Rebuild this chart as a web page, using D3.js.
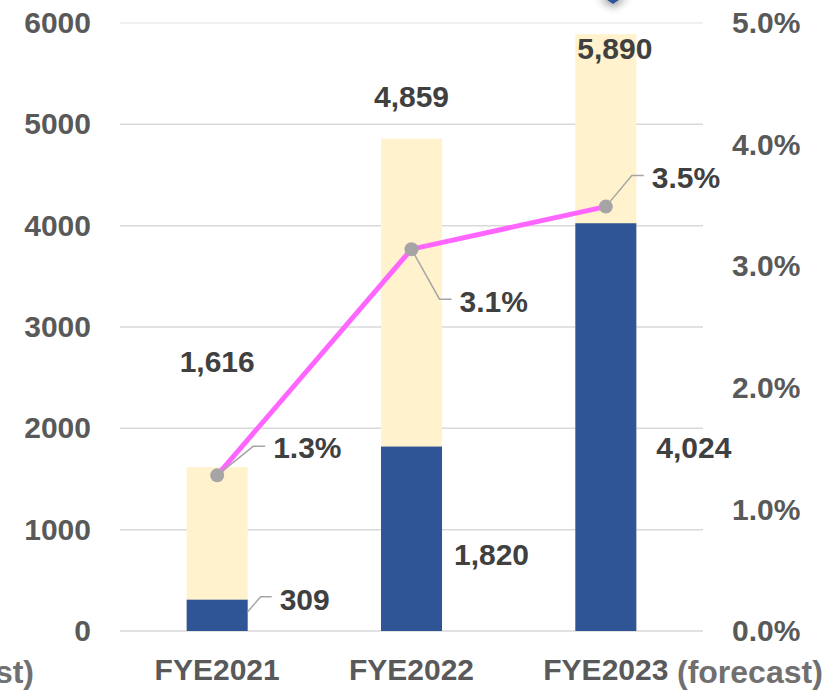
<!DOCTYPE html>
<html>
<head>
<meta charset="utf-8">
<script src="https://cdnjs.cloudflare.com/ajax/libs/d3/7.8.5/d3.min.js"></script>
<style>
 body { margin: 0; background: #fff; }
 svg { display: block; font-family: "Liberation Sans", Arial, sans-serif; font-weight: bold; }
</style>
</head>
<body>
<div id="chart"></div>
<script>
// data
var categories = ["FYE2021", "FYE2022", "FYE2023"];
var bottomValues = [309, 1820, 4024];
var totalValues = [1616, 4859, 5890];
var ratioValues = [0.0128, 0.0314, 0.0349];
var leftTicks = [0, 1000, 2000, 3000, 4000, 5000, 6000];
var rightTicks = [0, 0.01, 0.02, 0.03, 0.04, 0.05];

// label nudges (layout only)
var totalOffsets = [[0, -95], [0, -32], [9, 25]];
var bottomOffsets = [[0, 0], [80, 118], [88, 235]];
var ratioOffsets = [[56, -17], [48, 63], [46, -19]];

var width = 837, height = 691;
var plot = {left: 120, right: 703, top: 23, bottom: 631};

var svg = d3.select("#chart").append("svg")
  .attr("width", width)
  .attr("height", height);

var defs = svg.append("defs");
var f = defs.append("filter").attr("id", "shadow")
  .attr("x", "-50%").attr("y", "-50%").attr("width", "200%").attr("height", "300%");
f.append("feDropShadow").attr("dx", 0).attr("dy", 3).attr("stdDeviation", 4)
  .attr("flood-color", "#000").attr("flood-opacity", 0.45);

// set the ranges
var x = d3.scaleBand().domain(categories).range([plot.left, plot.right])
  .paddingInner(0.686).paddingOuter(0.343);
var yL = d3.scaleLinear().domain([0, 6000]).range([plot.bottom, plot.top]);
var yR = d3.scaleLinear().domain([0, 0.05]).range([plot.bottom, plot.top]);

// decorative shape cut off at the top
svg.append("path")
  .attr("d", "M598,-6 L628,-6 L613,4 Z")
  .attr("fill", "#2F5597")
  .attr("filter", "url(#shadow)");

// gridlines
svg.append("g").selectAll("line")
  .data(leftTicks)
  .enter().append("line")
  .attr("x1", plot.left).attr("x2", plot.right)
  .attr("y1", function(d) { return yL(d); })
  .attr("y2", function(d) { return yL(d); })
  .attr("stroke", function(d) { return d === 6000 ? "#EBEBEB" : "#D9D9D9"; })
  .attr("stroke-width", 1.5);

// left axis
var axL = svg.append("g")
  .attr("transform", "translate(91,0)")
  .call(d3.axisLeft(yL).tickValues(leftTicks).tickSize(0).tickPadding(0).tickFormat(d3.format("d")));
axL.select(".domain").remove();
axL.selectAll("text").attr("fill", "#595959").style("font-size", "30px").style("font-weight", "bold")
  .attr("font-family", null);

// right axis
var axR = svg.append("g")
  .attr("transform", "translate(732,0)")
  .call(d3.axisRight(yR).tickValues(rightTicks).tickSize(0).tickPadding(0).tickFormat(d3.format(".1%")));
axR.select(".domain").remove();
axR.selectAll("text").attr("fill", "#595959").style("font-size", "30px").style("font-weight", "bold")
  .attr("font-family", null);

// bottom axis
var axB = svg.append("g")
  .attr("transform", "translate(0," + plot.bottom + ")")
  .call(d3.axisBottom(x).tickSize(0).tickPadding(0));
axB.select(".domain").remove();
axB.selectAll("text").attr("fill", "#595959").style("font-size", "30px").style("font-weight", "bold")
  .attr("font-family", null).attr("dy", null).attr("y", 49);

svg.append("text")
  .attr("x", 677).attr("y", 683)
  .attr("fill", "#707070").style("font-size", "32px")
  .text("(forecast)");
svg.append("text")
  .attr("x", 34).attr("y", 683)
  .attr("text-anchor", "end")
  .attr("fill", "#707070").style("font-size", "32px")
  .text("(forecast)");

// bars
var bars = svg.append("g");
bars.selectAll(".total")
  .data(categories)
  .enter().append("rect")
  .attr("x", function(d) { return x(d); })
  .attr("width", x.bandwidth())
  .attr("y", function(d, i) { return yL(totalValues[i]); })
  .attr("height", function(d, i) { return yL(0) - yL(totalValues[i]); })
  .attr("fill", "#FFF2CC");
bars.selectAll(".bottom")
  .data(categories)
  .enter().append("rect")
  .attr("x", function(d) { return x(d); })
  .attr("width", x.bandwidth())
  .attr("y", function(d, i) { return yL(bottomValues[i]); })
  .attr("height", function(d, i) { return yL(0) - yL(bottomValues[i]); })
  .attr("fill", "#2F5597");

var cx = function(d) { return x(d) + x.bandwidth() / 2; };
var fmt = d3.format(",");

// line
var valueline = d3.line()
  .x(function(d, i) { return cx(categories[i]); })
  .y(function(d) { return yR(d); });

svg.append("path")
  .datum(ratioValues)
  .attr("d", valueline)
  .attr("fill", "none")
  .attr("stroke", "#FF66FF")
  .attr("stroke-width", 5);

// leader lines
var leader = svg.append("g").attr("fill", "none").attr("stroke", "#A6A6A6").attr("stroke-width", 1.5);
// 309 leader from bar edge
leader.append("path").attr("d", function() {
  var x0 = x(categories[0]) + x.bandwidth(), y0 = yL(bottomValues[0]);
  return "M" + x0 + "," + (y0 + 12) + " L" + (x0 + 13) + "," + (y0 - 3) + " H" + (x0 + 24);
});
ratioValues.forEach(function(v, i) {
  var px = cx(categories[i]), py = yR(v);
  var o = ratioOffsets[i];
  var ly = py + o[1] + (o[1] < 0 ? -12 : -13);
  var mid = px + o[0] - 20;
  leader.append("path").attr("d", "M" + px + "," + py + " L" + mid + "," + ly + " H" + (mid + 12));
});

// markers
svg.append("g").selectAll("circle")
  .data(ratioValues)
  .enter().append("circle")
  .attr("cx", function(d, i) { return cx(categories[i]); })
  .attr("cy", function(d) { return yR(d); })
  .attr("r", 7)
  .attr("fill", "#A5A5A5");

// labels
var labels = svg.append("g").attr("fill", "#404040").style("font-size", "30px");
totalValues.forEach(function(v, i) {
  labels.append("text")
    .attr("x", cx(categories[i]) + totalOffsets[i][0])
    .attr("y", yL(v) + totalOffsets[i][1])
    .attr("text-anchor", "middle")
    .text(fmt(v));
});
bottomValues.forEach(function(v, i) {
  var t = labels.append("text").text(fmt(v));
  if (i === 0) {
    t.attr("x", x(categories[0]) + x.bandwidth() + 32).attr("y", yL(v) + 10);
  } else {
    t.attr("x", cx(categories[i]) + bottomOffsets[i][0])
      .attr("y", yL(v) + bottomOffsets[i][1])
      .attr("text-anchor", "middle");
  }
});
ratioValues.forEach(function(v, i) {
  labels.append("text")
    .attr("x", cx(categories[i]) + ratioOffsets[i][0])
    .attr("y", yR(v) + ratioOffsets[i][1])
    .text(d3.format(".1%")(v));
});
</script>
</body>
</html>
